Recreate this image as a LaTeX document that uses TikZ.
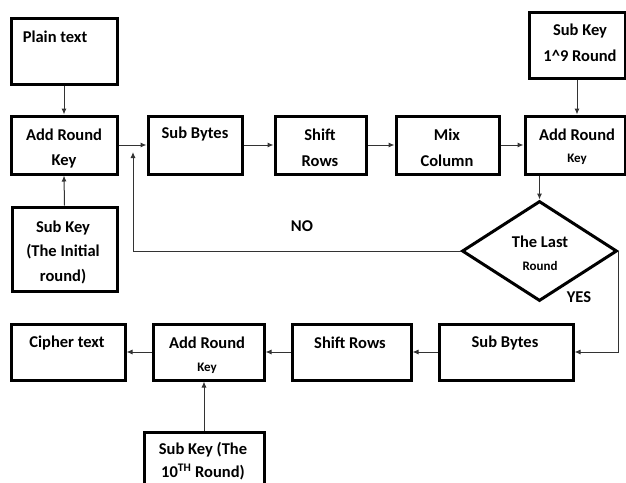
\documentclass[tikz,border=0pt]{standalone}
\usepackage{fontspec}
\setmainfont{Carlito}
\usetikzlibrary{shapes.geometric,arrows.meta}
\begin{document}
\begin{tikzpicture}[x=1pt,y=-1pt,
  box/.style={draw=black,line width=3pt,rectangle,inner sep=0pt},
  dia/.style={draw=black,line width=3pt,diamond,inner sep=0pt},
  txt/.style={inner sep=0pt,font=\fontsize{16.5}{18}\selectfont\bfseries},
  stxt/.style={inner sep=0pt,font=\fontsize{13}{15}\selectfont\bfseries},
  arr/.style={draw=black!80,line width=1pt,-{Latex[length=6pt,width=5pt]}},
  ln/.style={draw=black,line width=1pt}]
\useasboundingbox (0,0) rectangle (626,482);
\clip (0,0) rectangle (626,482);
\fill[white] (0,0) rectangle (626,482);
% boxes
\node[box,minimum width=106,minimum height=66] (plain) at (64,51) {};
\node[box,minimum width=106,minimum height=58] (addL) at (64,145) {};
\node[box,minimum width=105,minimum height=84] (sk0) at (64.5,249) {};
\node[box,minimum width=94,minimum height=58] (sb1) at (195,145) {};
\node[box,minimum width=91,minimum height=58] (sr1) at (320.5,145) {};
\node[box,minimum width=103,minimum height=58] (mc) at (447.5,145) {};
\node[box,minimum width=100,minimum height=58] (addR) at (575,145) {};
\node[box,minimum width=96,minimum height=66] (sk19) at (577,45) {};
\node[dia,minimum width=155,minimum height=100] (last) at (539.5,251) {};
\node[box,minimum width=114,minimum height=56] (cipher) at (68,352) {};
\node[box,minimum width=111,minimum height=56] (add2) at (208.5,352) {};
\node[box,minimum width=119,minimum height=56] (sr2) at (351.5,352) {};
\node[box,minimum width=134,minimum height=56] (sb2) at (506,352) {};
\node[box,minimum width=120,minimum height=68] (sk10) at (204,466) {};
% texts
\node[txt] (t1) at (55,37) {Plain text};
\node[txt] (t2) at (64,135) {Add Round};
\node[txt] (t3) at (64,161) {Key};
\node[txt] (t4) at (63,228) {Sub Key};
\node[txt] (t5) at (63,252) {(The Initial};
\node[txt] (t6) at (63,277) {round)};
\node[txt] (t7) at (195,134) {Sub Bytes};
\node[txt] (t8) at (320,135) {Shift};
\node[txt] (t9) at (320,161) {Rows};
\node[txt] (t10) at (447,135) {Mix};
\node[txt] (t11) at (447,161) {Column};
\node[txt] (t12) at (577,135) {Add Round};
\node[stxt] (t13) at (577,159) {Key};
\node[txt] (t14) at (580,31) {Sub Key};
\node[txt] (t15) at (580,56) {1\^{}9 Round};
\node[txt] (t16) at (540,242) {The Last};
\node[stxt] (t17) at (540,266) {Round};
\node[txt] (t18) at (67,343) {Cipher text};
\node[txt] (t19) at (207,343) {Add Round};
\node[stxt] (t20) at (207,368) {Key};
\node[txt] (t21) at (350,343) {Shift Rows};
\node[txt] (t22) at (505,343) {Sub Bytes};
\node[txt] (t23) at (203,450) {Sub Key (The};
\node[txt] (t24) at (203,472) {10\textsuperscript{TH} Round)};
\node[txt] (no) at (302,226) {NO};
\node[txt] (yes) at (579,297) {YES};
% connectors
\draw[arr] (plain.south) -- (addL.north);
\draw[arr] (sk0.north) -- (addL.south);
\draw[arr] (addL.east) -- (sb1.west);
\draw[arr] (sb1.east) -- (sr1.west);
\draw[arr] (sr1.east) -- (mc.west);
\draw[arr] (mc.east) -- (addR.west);
\draw[arr] (sk19.south) -- (sk19.south |- addR.north);
\draw[arr] (addR.south -| last.north) -- (last.north);
\coordinate (nojoin) at (133,152);
\draw[arr] (last.west) -| (nojoin);
\draw[arr] (last.east) |- (sb2.east);
\draw[arr] (sb2.west) -- (sr2.east);
\draw[arr] (sr2.west) -- (add2.east);
\draw[arr] (add2.west) -- (cipher.east);
\draw[arr] (sk10.north) -- (sk10.north |- add2.south);
\end{tikzpicture}
\end{document}
